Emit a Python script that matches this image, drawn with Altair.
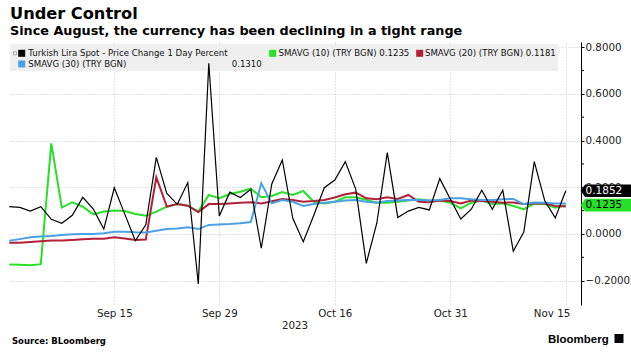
import altair as alt
import pandas as pd

# ---- data ----
dates = [d.strftime("%Y-%m-%d") for d in pd.bdate_range("2023-09-01", "2023-11-15")]
tick_labels = ["Sep 15", "Sep 29", "Oct 16", "Oct 31", "Nov 15"]
tick_dates = ["2023-09-15", "2023-09-29", "2023-10-16", "2023-10-31", "2023-11-15"]

spot = [0.117, 0.114, 0.098, 0.117, 0.063, 0.046, 0.080, 0.157, 0.107, 0.021,
        0.198, 0.085, -0.029, 0.039, 0.328, 0.174, 0.127, 0.220, -0.214, 0.731,
        0.077, 0.179, 0.156, 0.191, -0.061, 0.214, 0.317, 0.067, -0.033, 0.080,
        0.198, 0.231, 0.310, 0.191, -0.126, 0.046, 0.348, 0.071, 0.098, 0.114,
        0.103, 0.237, 0.150, 0.064, 0.106, 0.187, 0.106, 0.187, -0.074, 0.008,
        0.310, 0.142, 0.069, 0.1852]
sma10 = [-0.131, -0.132, -0.134, -0.129, 0.388, 0.113, 0.136, 0.117, 0.084, 0.096,
         0.101, 0.098, 0.086, 0.078, 0.096, 0.117, 0.128, 0.121, 0.096, 0.167,
         0.153, 0.171, 0.181, 0.194, 0.157, 0.163, 0.180, 0.167, 0.184, 0.138,
         0.131, 0.138, 0.157, 0.157, 0.146, 0.134, 0.134, 0.138, 0.143, 0.149,
         0.142, 0.143, 0.134, 0.110, 0.134, 0.143, 0.128, 0.131, 0.120, 0.106,
         0.130, 0.128, 0.113, 0.1235]
sma20 = [-0.037, -0.037, -0.034, -0.031, -0.028, -0.028, -0.026, -0.023, -0.020, -0.020,
         -0.014, -0.019, -0.026, -0.024, 0.243, 0.117, 0.128, 0.121, 0.094, 0.128,
         0.128, 0.131, 0.134, 0.136, 0.131, 0.140, 0.150, 0.146, 0.138, 0.141,
         0.146, 0.156, 0.170, 0.177, 0.153, 0.149, 0.157, 0.150, 0.167, 0.138,
         0.136, 0.143, 0.141, 0.131, 0.143, 0.141, 0.138, 0.134, 0.135, 0.128,
         0.131, 0.131, 0.120, 0.1181]
sma30 = [-0.029, -0.022, -0.014, -0.011, -0.009, -0.004, -0.001, 0.000, 0.000, 0.003,
         0.010, 0.010, 0.007, 0.006, 0.014, 0.021, 0.024, 0.029, 0.021, 0.039,
         0.041, 0.043, 0.046, 0.051, 0.217, 0.131, 0.145, 0.138, 0.120, 0.128,
         0.134, 0.138, 0.143, 0.146, 0.138, 0.134, 0.141, 0.143, 0.146, 0.146,
         0.143, 0.146, 0.153, 0.153, 0.149, 0.146, 0.146, 0.149, 0.150, 0.128,
         0.135, 0.134, 0.131, 0.1310]

y_major = [-0.2, 0.0, 0.2, 0.4, 0.6, 0.8]
y_minor = [-0.1, 0.1, 0.3, 0.5, 0.7]

GREEN = "#27e027"
RED = "#b3203a"
BLUE = "#4aa1e6"
FONT = "DejaVu Sans"

W, H = 573, 263

idx = list(range(len(dates)))
tick_idx = [dates.index(d) for d in tick_dates]
label_expr = ""
for ti, tl in zip(tick_idx, tick_labels):
    label_expr += f"datum.value == {ti} ? '{tl}' : "
label_expr += "''"

xenc = alt.X("idx:Q",
             scale=alt.Scale(domain=[-0.124, 54.45], nice=False, zero=False),
             axis=alt.Axis(values=tick_idx, labelExpr=label_expr, grid=True,
                           gridDash=[1, 2], gridColor="#c4c4c4", domain=False,
                           ticks=False, labelFont=FONT, labelFontSize=10.3,
                           labelColor="#222", labelPadding=3, labelFlush=20,
                           labelFlushOffset=4, title="2023", titleFont=FONT,
                           titleFontWeight="normal", titleFontSize=10.3,
                           titleColor="#222", titlePadding=2))
def yenc():
    return alt.Y("v:Q",
                 scale=alt.Scale(domain=[-0.304, 0.822], nice=False, zero=False),
                 axis=alt.Axis(orient="right", values=y_major, format=".4f",
                               grid=True, gridDash=[1, 2], gridColor="#c4c4c4",
                               domainColor="#000", tickColor="#000", tickSize=3,
                               labelPadding=1, labelFont=FONT, labelFontSize=10.3,
                               labelColor="#222", title=None))

def series(vals):
    return pd.DataFrame({"idx": idx, "v": vals})

one = pd.DataFrame({"a": [0]})

def txt(t, x, y, size, weight="normal", color="#111", align="left",
        baseline="alphabetic", font=FONT):
    return alt.Chart(one).mark_text(text=t, fontSize=size, fontWeight=weight,
                                    color=color, align=align, baseline=baseline,
                                    font=font).encode(x=alt.value(x), y=alt.value(y))

def sq(x, y, color, size=49):
    return alt.Chart(one).mark_square(size=size, color=color, opacity=1).encode(
        x=alt.value(x), y=alt.value(y))

# legend box behind lines
legend_box = alt.Chart(one).mark_rect(color="#efefef").encode(
    x=alt.value(2), x2=alt.value(550), y=alt.value(2), y2=alt.value(29))

base_grid = alt.Chart(series(spot)).mark_line(opacity=0).encode(x=xenc, y=yenc())

lines = [
    alt.Chart(series(sma10)).mark_line(color=GREEN, strokeWidth=2).encode(x=xenc, y=yenc()),
    alt.Chart(series(sma20)).mark_line(color=RED, strokeWidth=2).encode(x=xenc, y=yenc()),
    alt.Chart(series(sma30)).mark_line(color=BLUE, strokeWidth=2).encode(x=xenc, y=yenc()),
    alt.Chart(series(spot)).mark_line(color="#000", strokeWidth=1.2).encode(x=xenc, y=yenc()),
]

minor = alt.Chart(pd.DataFrame({"v": y_minor})).mark_rule(color="#000").encode(
    y=yenc(), x=alt.value(W), x2=alt.value(W + 3))

tag_shape = "M-1,0L-0.82,-0.25L1,-0.25L1,0.25L-0.82,0.25Z"

def tag(value, fill, textcolor):
    d = pd.DataFrame({"v": [value], "lab": [f"{value:.4f}"]})
    box = alt.Chart(d).mark_point(shape=tag_shape, filled=True, size=2550,
                                  opacity=1, strokeWidth=0, color=fill).encode(
        y=yenc(), x=alt.value(597.8))
    lab = alt.Chart(d).mark_text(align="left", baseline="middle", fontSize=10.5,
                                 font=FONT, color=textcolor).encode(
        y=yenc(), x=alt.value(577.5), text="lab:N")
    return [box, lab]

annotations = [
    txt("Under Control", 2, -23.5, 16.2, "bold", "#000"),
    txt("Since August, the currency has been declining in a tight range", 2, -7, 12.8, "bold", "#000"),
    # legend
    alt.Chart(one).mark_point(shape="square", size=10, filled=False, color="#777",
                              strokeWidth=0.8).encode(x=alt.value(7), y=alt.value(11.3)),
    sq(13.7, 11.3, "#000"),
    txt("Turkish Lira Spot - Price Change 1 Day Percent", 20.3, 14.2, 8.6),
    sq(264.7, 11.3, GREEN),
    txt(f"SMAVG (10) (TRY BGN) {sma10[-1]:.4f}", 270.5, 14.2, 8.6),
    sq(411.7, 11.3, RED),
    txt(f"SMAVG (20) (TRY BGN) {sma20[-1]:.4f}", 417, 14.2, 8.6),
    sq(13.7, 22, BLUE),
    txt("SMAVG (30) (TRY BGN)", 20.3, 25.3, 8.6),
    txt(f"{sma30[-1]:.4f}", 223.7, 25.3, 8.6),
    # footer
    txt("Source: BLoomberg", 4, 301.5, 8.5, "bold", "#000"),
    txt("Bloomberg", 540, 301, 11.5, "bold", "#000", font="Liberation Sans"),
    sq(611, 296.5, "#000", 81),
]

chart = alt.layer(
    base_grid, legend_box, *lines, minor,
    *tag(spot[-1], "#000", "#fff"), *tag(sma10[-1], GREEN, "#000"),
    *annotations
).properties(
    width=W, height=H,
    autosize=alt.AutoSizeParams(type="none"),
    padding={"left": 8, "top": 42, "right": 631 - 8 - W, "bottom": 352 - 42 - H},
    background="white",
).configure_view(stroke=None)

chart.save("out.html", embed_options={"renderer": "svg", "actions": False})
